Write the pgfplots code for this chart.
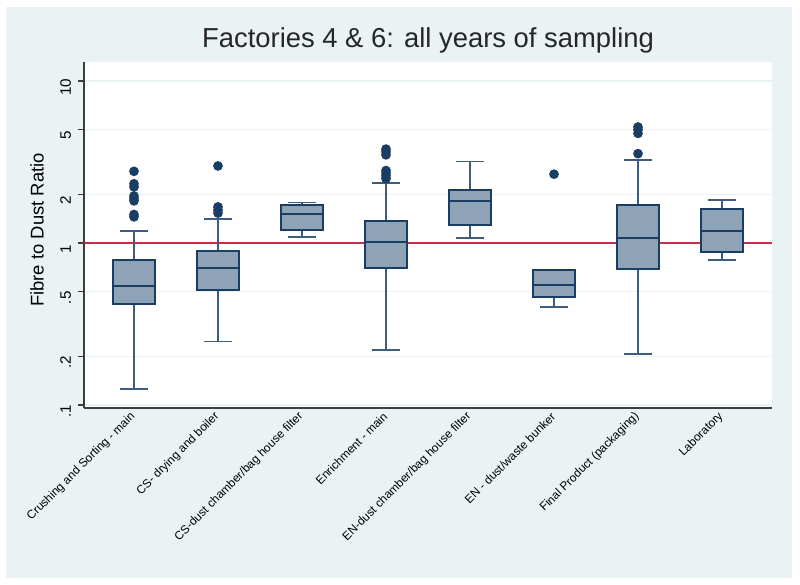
\documentclass[border=0pt]{standalone}
\usepackage{pgfplots}
\pgfplotsset{compat=1.18}
\usepgfplotslibrary{statistics}
\usepackage{fontspec}
\setmainfont{Liberation Sans}
\definecolor{bg}{RGB}{234,242,243}
\definecolor{boxfill}{RGB}{143,163,183}
\definecolor{navy}{RGB}{26,61,99}
\definecolor{whisk}{RGB}{62,92,128}
\definecolor{refred}{RGB}{200,45,75}
\definecolor{axisc}{RGB}{60,60,60}
\begin{document}
\begin{tikzpicture}
\useasboundingbox (0,0) rectangle (400pt,292.5pt);
\fill[white] (0,0) rectangle (400pt,292.5pt);
\fill[bg] (3pt,3.5pt) rectangle (396pt,289pt);
\pgfplotsset{
  mybox/.style={boxplot prepared, boxplot/draw direction=y, draw=navy, fill=boxfill, line width=1pt,
    mark=*, mark size=1.9pt, mark options={draw=navy, fill=navy, solid},
    boxplot/box extend=0.5, boxplot/whisker extend=0.33,
    boxplot/every whisker/.style={draw=whisk, line width=0.8pt},
    boxplot/every median/.style={draw=navy, line width=1pt}},
}
\begin{axis}[
  at={(42pt,88.5pt)}, anchor=south west,
  scale only axis, width=344pt, height=173pt,
  axis background/.style={fill=white},
  ymode=log, ymin=0.0958, ymax=13.1,
  xmin=0.405, xmax=8.595,
  axis x line=bottom, axis y line=left,
  axis line style={-, draw=axisc, line width=0.8pt},
  ytick={0.1,0.2,0.5,1,2,5,10},
  yticklabels={{.1},{.2},{.5},{1},{2},{5},{10}},
  minor ytick={}, 
  ymajorgrids, grid style={draw=bg, line width=0.6pt},
  tick align=outside, major tick length=3pt,
  ytick style={draw=axisc, line width=0.6pt},
  yticklabel style={rotate=90, anchor=south, xshift=-3pt, font=\fontsize{7.6}{8}\selectfont},
  xtick={1,...,8},
  xtick style={draw=none},
  xticklabels={{Crushing and Sorting - main},{CS- drying and boiler},{CS-dust chamber/bag house filter},{Enrichment - main},{EN-dust chamber/bag house filter},{EN - dust/waste bunker},{Final Product (packaging)},{Laboratory}},
  xticklabel style={rotate=45, anchor=east, xshift=3pt, font=\fontsize{5.9}{7}\selectfont},
  clip=false,
]
\addplot[refred, line width=0.8pt] coordinates {(0.405,1) (8.595,1)};
\addplot[mybox, boxplot prepared={draw position=1, lower whisker=0.125, lower quartile=0.418, median=0.541, upper quartile=0.785, upper whisker=1.19}]
  coordinates {(1,2.77) (1,2.32) (1,2.22) (1,1.95) (1,1.88) (1,1.82) (1,1.5) (1,1.45)};
\addplot[mybox, boxplot prepared={draw position=2, lower whisker=0.247, lower quartile=0.511, median=0.698, upper quartile=0.896, upper whisker=1.41}]
  coordinates {(2,2.99) (2,1.67) (2,1.6) (2,1.53)};
\addplot[mybox, boxplot prepared={draw position=3, lower whisker=1.09, lower quartile=1.20, median=1.50, upper quartile=1.72, upper whisker=1.78}]
  coordinates {};
\addplot[mybox, boxplot prepared={draw position=4, lower whisker=0.219, lower quartile=0.698, median=1.01, upper quartile=1.37, upper whisker=2.34}]
  coordinates {(4,3.8) (4,3.65) (4,3.5) (4,2.8) (4,2.7) (4,2.6) (4,2.5)};
\addplot[mybox, boxplot prepared={draw position=5, lower whisker=1.07, lower quartile=1.30, median=1.82, upper quartile=2.11, upper whisker=3.19}]
  coordinates {};
\addplot[mybox, boxplot prepared={draw position=6, lower whisker=0.403, lower quartile=0.462, median=0.553, upper quartile=0.681, upper whisker=0.681}]
  coordinates {(6,2.66)};
\addplot[mybox, boxplot prepared={draw position=7, lower whisker=0.207, lower quartile=0.694, median=1.07, upper quartile=1.71, upper whisker=3.25}]
  coordinates {(7,5.2) (7,5.0) (7,4.75) (7,3.56)};
\addplot[mybox, boxplot prepared={draw position=8, lower whisker=0.782, lower quartile=0.88, median=1.18, upper quartile=1.61, upper whisker=1.84}]
  coordinates {};
\end{axis}
\node[anchor=base, font=\fontsize{13.7}{16}\selectfont, text=black!85] at (214pt,268.5pt) {Factories 4 \& 6: all years of sampling};
\node[rotate=90, font=\fontsize{9.2}{11}\selectfont] at (18.5pt,177.5pt) {Fibre to Dust Ratio};
\end{tikzpicture}
\end{document}
